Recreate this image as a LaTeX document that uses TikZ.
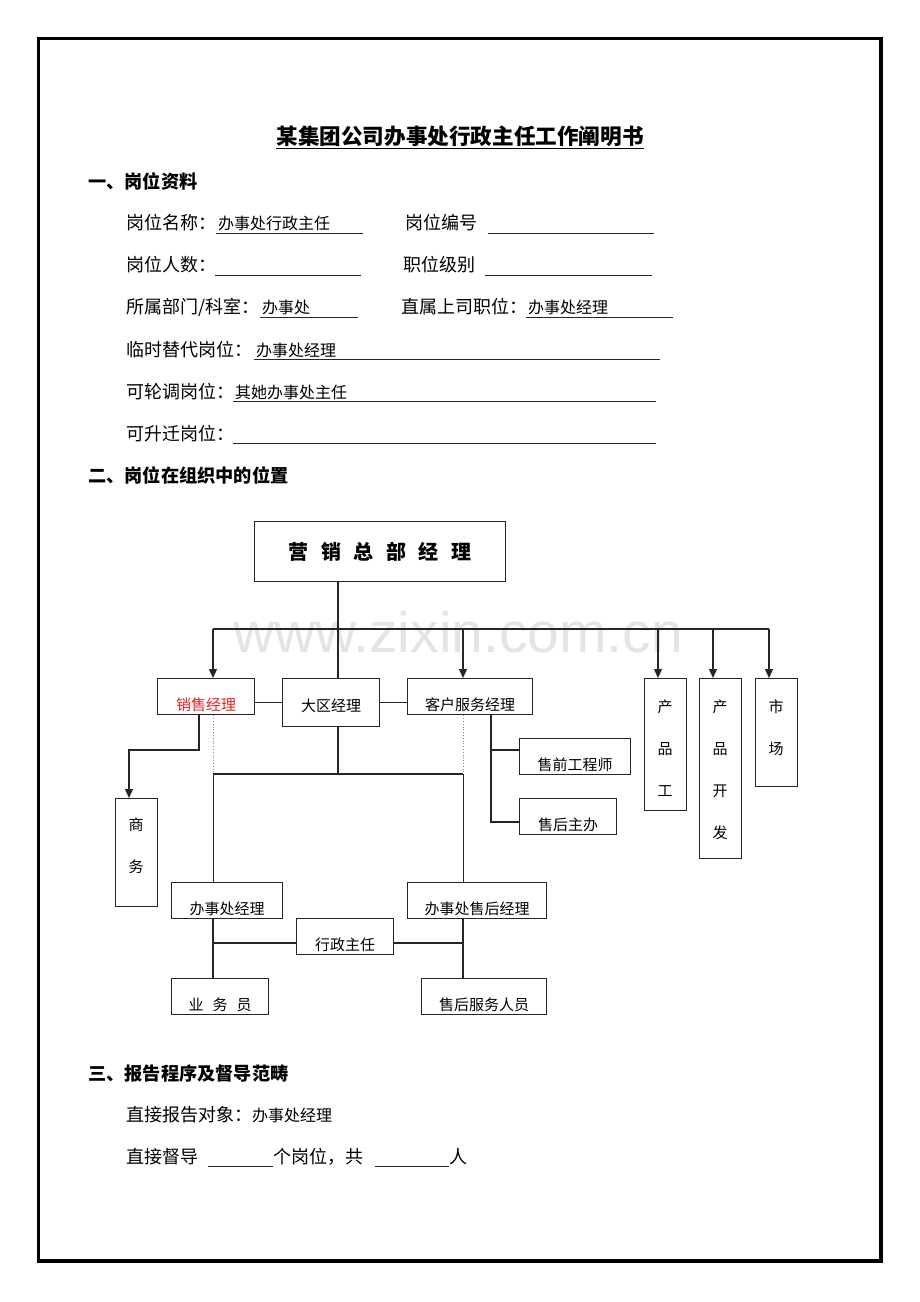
\documentclass[tikz,border=0pt]{standalone}
\usepackage{fontspec}
\newfontfamily\cjk{Noto Sans CJK SC}
\newfontfamily\wmfont{Liberation Sans}
\usetikzlibrary{arrows.meta}
\definecolor{xsred}{RGB}{238,30,36}
\definecolor{wmgray}{RGB}{228,228,228}
\newcommand\bt[2]{\raisebox{#1}[0pt][0pt]{#2}}
\begin{document}
\begin{tikzpicture}[x=1pt,y=-1pt,
  txt/.style={anchor=base west,inner sep=0,font=\cjk\fontsize{18}{18}\selectfont},
  val/.style={anchor=base west,inner sep=0,font=\cjk\fontsize{16}{16}\selectfont},
  head/.style={anchor=base west,inner sep=0,font=\cjk\bfseries\fontsize{18.2}{18.2}\selectfont},
  uline/.style={line width=0.9pt,black!85},
  orgbox/.style={draw=black!85,line width=1.3pt,inner sep=0,anchor=north west,font=\cjk\fontsize{15}{15}\selectfont},
  vtext/.style={inner sep=0,anchor=north,align=center,font=\cjk\fontsize{15}{42}\selectfont},
  conn/.style={draw=black!85,line width=1.2pt},
  dotl/.style={draw=black!45,line width=0.8pt,dotted},
  arr/.style={-{Triangle[length=9pt,width=8pt]}}]
\useasboundingbox (0,0) rectangle (920,1302);
\fill[white] (0,0) rectangle (920,1302);
% watermark
\node[anchor=base west,inner sep=0,text=wmgray,font=\wmfont\fontsize{57}{57}\selectfont] (wm) at (233,652) {www.zixin.com.cn};
% frame
\draw[line width=3.2pt] (38.5,38.5) rectangle (881,1261);
% title
\node[anchor=base,inner sep=0,font=\cjk\bfseries\fontsize{21.6}{21.6}\selectfont] (title) at (460,144) {某集团公司办事处行政主任工作阐明书};
\draw[line width=1.3pt] (title.south west |- 0,148.5) -- (title.south east |- 0,148.5);
% section 1
\node[head] (h1) at (88,188.5) {一、岗位资料};
\node[txt] (r1a) at (126,229.5) {岗位名称：};
\node[val] (r1v) at (218,229.5) {办事处行政主任};
\draw[uline] (216,233) -- (363,233);
\node[txt] (r1b) at (405,229.5) {岗位编号};
\draw[uline] (488,233) -- (654,233);
\node[txt] (r2a) at (126,271.5) {岗位人数：};
\draw[uline] (215,275) -- (361,275);
\node[txt] (r2b) at (403,271.5) {职位级别};
\draw[uline] (485,275) -- (652,275);
\node[txt] (r3a) at (126,313.5) {所属部门/科室：};
\node[val] (r3v) at (262,313.5) {办事处};
\draw[uline] (260,317) -- (358,317);
\node[txt] (r3b) at (401,313.5) {直属上司职位：};
\node[val] (r3w) at (528,313.5) {办事处经理};
\draw[uline] (526,317) -- (673,317);
\node[txt] (r4a) at (126,356) {临时替代岗位：};
\node[val] (r4v) at (256,356) {办事处经理};
\draw[uline] (254,359.5) -- (660,359.5);
\node[txt] (r5a) at (126,398) {可轮调岗位：};
\node[val] (r5v) at (235,398) {其她办事处主任};
\draw[uline] (233,401.5) -- (656,401.5);
\node[txt] (r6a) at (126,440) {可升迁岗位：};
\draw[uline] (233,443.5) -- (656,443.5);
% section 2
\node[head] (h2) at (88,482.5) {二、岗位在组织中的位置};
% org chart boxes
\node[orgbox,minimum width=251,minimum height=60,font=\cjk\bfseries\fontsize{20}{20}\selectfont] (top) at (254,521)
  {营\hspace{12.5pt}销\hspace{12.5pt}总\hspace{12.5pt}部\hspace{12.5pt}经\hspace{12.5pt}理};
\node[orgbox,minimum width=97,minimum height=36,text=xsred] (xs) at (157,678) {\bt{-13.5pt}{销售经理}};
\node[orgbox,minimum width=97,minimum height=48] (dq) at (282,678) {\bt{-8.5pt}{大区经理}};
\node[orgbox,minimum width=125,minimum height=36] (kf) at (407,678) {\bt{-13.5pt}{客户服务经理}};
\node[orgbox,minimum width=111,minimum height=36] (sq) at (519,738) {\bt{-13.5pt}{售前工程师}};
\node[orgbox,minimum width=97,minimum height=36] (sh) at (519,798) {\bt{-13.5pt}{售后主办}};
\node[orgbox,minimum width=42,minimum height=132] (cpg) at (644,678) {};
\node[vtext] (cpgt) at (665,700) {产\\品\\工};
\node[orgbox,minimum width=42,minimum height=180] (cpk) at (699,678) {};
\node[vtext] (cpkt) at (720,700) {产\\品\\开\\发};
\node[orgbox,minimum width=42,minimum height=108] (sc) at (755,678) {};
\node[vtext] (sct) at (776,700) {市\\场};
\node[orgbox,minimum width=42,minimum height=108] (sw) at (115,798) {};
\node[vtext] (swt) at (136,818) {商\\务};
\node[orgbox,minimum width=111,minimum height=36] (bjl) at (171,882) {\bt{-13.5pt}{办事处经理}};
\node[orgbox,minimum width=139,minimum height=36] (bsh) at (407,882) {\bt{-13.5pt}{办事处售后经理}};
\node[orgbox,minimum width=97,minimum height=36] (xz) at (296,918) {\bt{-13.5pt}{行政主任}};
\node[orgbox,minimum width=97,minimum height=36] (ywy) at (171,978) {\bt{-13.5pt}{业\hspace{9pt}务\hspace{9pt}员}};
\node[orgbox,minimum width=125,minimum height=36] (shfw) at (421,978) {\bt{-13.5pt}{售后服务人员}};
% junction coordinates
\coordinate (j338) at (338,629);
\coordinate (bl) at (213,629);
\coordinate (j463) at (463,629);
\coordinate (j658) at (658,629);
\coordinate (j713) at (713,629);
\coordinate (br) at (769,629);
\coordinate (L1) at (213,774);
\coordinate (L2) at (463,774);
\coordinate (L3) at (338,774);
\coordinate (s1) at (199,750);
\coordinate (s2) at (129,750);
\coordinate (k1) at (491,822);
\coordinate (k2) at (491,750);
\coordinate (m1) at (213,943);
\coordinate (m2) at (463,943);
% connectors
\draw[conn] (top.south -| j338) -- (dq.north -| j338);
\draw[conn] (bl) -- (br);
\draw[conn,arr] (bl) -- (xs.north -| bl);
\draw[conn,arr] (j463) -- (kf.north -| j463);
\draw[conn,arr] (j658) -- (cpg.north -| j658);
\draw[conn,arr] (j713) -- (cpk.north -| j713);
\draw[conn,arr] (br) -- (sc.north -| br);
\draw[conn] (xs.east |- dq.west) -- (dq.west);
\draw[conn] (dq.east) -- (kf.west |- dq.east);
\draw[conn,arr] (xs.south -| s1) -- (s1) -- (s2) -- (sw.north -| s2);
\draw[conn] (kf.south -| k1) -- (k1) -- (k1 -| sh.west);
\draw[conn] (k2) -- (k2 -| sq.west);
\draw[dotl] (xs.south -| L1) -- (L1);
\draw[dotl] (kf.south -| L2) -- (L2);
\draw[conn] (dq.south -| L3) -- (L3);
\draw[conn] (L1) -- (L2);
\draw[conn,line width=0.9pt] (L1) -- (bjl.north -| L1);
\draw[conn,line width=0.9pt] (L2) -- (bsh.north -| L2);
\draw[conn] (bjl.south -| m1) -- (ywy.north -| m1);
\draw[conn] (m1) -- (m1 -| xz.west);
\draw[conn] (m2 -| xz.east) -- (m2);
\draw[conn] (bsh.south -| m2) -- (shfw.north -| m2);
% section 3
\node[head] (h3) at (88,1080.5) {三、报告程序及督导范畴};
\node[txt] (p1) at (126,1121.5) {直接报告对象：{\fontsize{16}{16}\selectfont 办事处经理}};
\node[txt] (p2a) at (126,1163.5) {直接督导};
\draw[uline] (208,1166.5) -- (273,1166.5);
\node[txt] (p2b) at (273,1163.5) {个岗位，共};
\draw[uline] (375,1166.5) -- (449,1166.5);
\node[txt] (p2c) at (449,1163.5) {人};
\end{tikzpicture}
\end{document}
